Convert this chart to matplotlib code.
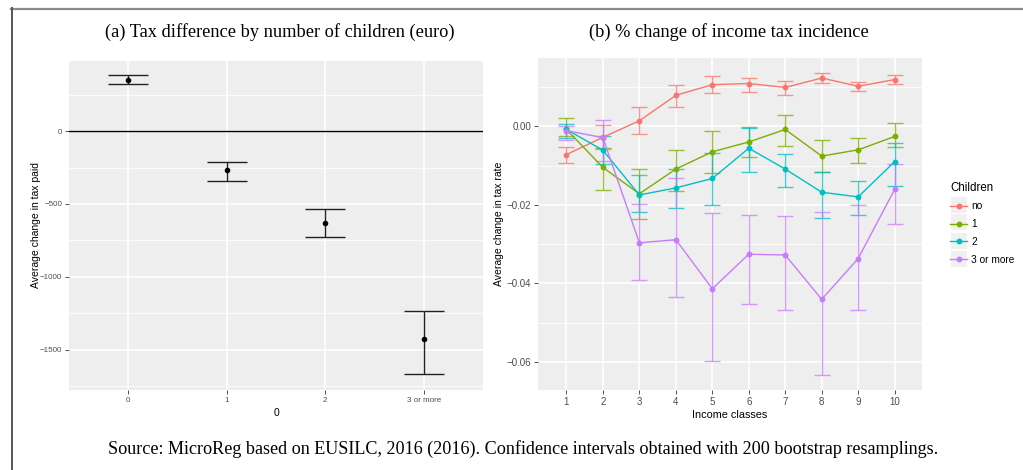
import matplotlib
matplotlib.use("Agg")
import matplotlib.pyplot as plt
from matplotlib.lines import Line2D
from matplotlib.patches import Rectangle
import numpy as np

# ---- data: panel (a) ----
child_cats = ["0", "1", "2", "3 or more"]
tax_mean = [350, -270, -630, -1427]
tax_low = [325, -341, -723, -1668]
tax_high = [385, -209, -532, -1231]

# ---- data: panel (b) ----
income_classes = [1, 2, 3, 4, 5, 6, 7, 8, 9, 10]
series_names = ["no", "1", "2", "3 or more"]
no_mean = [-0.0072, -0.0028, 0.0014, 0.0079, 0.0106, 0.0109, 0.0099, 0.0123, 0.0102, 0.0119]
no_low = [-0.0093, -0.0058, -0.0020, 0.0048, 0.0086, 0.0088, 0.0080, 0.0111, 0.0090, 0.0108]
no_high = [-0.0052, 0.0002, 0.0048, 0.0105, 0.0127, 0.0124, 0.0116, 0.0135, 0.0113, 0.0130]
one_mean = [-0.0008, -0.0105, -0.0172, -0.0109, -0.0065, -0.0040, -0.0008, -0.0076, -0.0060, -0.0026]
one_low = [-0.0025, -0.0163, -0.0237, -0.0166, -0.0118, -0.0079, -0.0050, -0.0117, -0.0093, -0.0054]
one_high = [0.0022, -0.0056, -0.0108, -0.0061, -0.0011, -0.0002, 0.0028, -0.0036, -0.0031, 0.0009]
two_mean = [-0.0008, -0.0061, -0.0175, -0.0157, -0.0133, -0.0056, -0.0109, -0.0168, -0.0180, -0.0090]
two_low = [-0.0031, -0.0097, -0.0219, -0.0207, -0.0200, -0.0117, -0.0154, -0.0233, -0.0225, -0.0152]
two_high = [0.0007, -0.0026, -0.0123, -0.0108, -0.0067, -0.0004, -0.0070, -0.0116, -0.0139, -0.0043]
three_mean = [-0.0011, -0.0029, -0.0297, -0.0289, -0.0414, -0.0326, -0.0328, -0.0441, -0.0337, -0.0161]
three_low = [-0.0035, -0.0088, -0.0391, -0.0434, -0.0598, -0.0453, -0.0469, -0.0633, -0.0468, -0.0250]
three_high = [0.0000, 0.0016, -0.0198, -0.0133, -0.0220, -0.0227, -0.0228, -0.0218, -0.0201, -0.0095]

colors = ["#F8766D", "#7CAE00", "#00BFC4", "#C77CFF"]

W, H = 1023, 470
fig = plt.figure(figsize=(W / 100, H / 100), dpi=100)
fig.patch.set_facecolor("white")

sans = ["Liberation Sans", "DejaVu Sans"]
serif = ["Liberation Serif", "DejaVu Serif"]
panel_bg = "#EEEEEE"


def px_axes(x0, y0, x1, y1):
    return fig.add_axes([x0 / W, 1 - y1 / H, (x1 - x0) / W, (y1 - y0) / H])


def gg_style(ax):
    ax.set_facecolor(panel_bg)
    for s in ax.spines.values():
        s.set_visible(False)
    ax.tick_params(axis="both", length=3, width=0.6, color="#333333",
                   labelcolor="#4D4D4D", pad=2)
    ax.set_axisbelow(True)


# ---------- panel (a) ----------
ax1 = px_axes(69, 61, 483, 390)
gg_style(ax1)
xa = np.arange(len(child_cats))
ax1.set_xlim(-0.6, len(child_cats) - 1 + 0.6)
ax1.set_ylim(-1775, 480)
ax1.set_yticks([0, -500, -1000, -1500])
ax1.set_yticklabels(["0", "\u2212500", "\u22121000", "\u22121500"], family=sans, fontsize=5.8)
ax1.set_yticks([250, -250, -750, -1250, -1750], minor=True)
ax1.tick_params(axis="y", which="minor", length=0)
ax1.set_xticks(xa)
ax1.set_xticklabels(child_cats, family=sans, fontsize=5.8)
ax1.grid(True, which="major", color="white", linewidth=1.1)
ax1.grid(True, which="minor", axis="y", color="white", linewidth=0.55)
ax1.axhline(0, color="black", linewidth=1.0, zorder=2)
yerr = [np.array(tax_mean) - np.array(tax_low), np.array(tax_high) - np.array(tax_mean)]
ax1.errorbar(xa, tax_mean, yerr=yerr, fmt="o", color="black", ecolor="#222222",
             markersize=3, elinewidth=1.0, capsize=14.5, capthick=1.0, zorder=3)
ax1.set_ylabel("Average change in tax paid", family=sans, fontsize=7.5, labelpad=-1)
ax1.set_xlabel("0", family=sans, fontsize=7.5, labelpad=3)

# ---------- panel (b) ----------
ax2 = px_axes(538, 58, 922, 390)
gg_style(ax2)
ax2.set_xlim(0.22, 10.75)
ax2.set_ylim(-0.0672, 0.0174)
ax2.set_xticks(income_classes)
ax2.set_xticklabels([str(v) for v in income_classes], family=sans, fontsize=7)
ax2.set_yticks([0.0, -0.02, -0.04, -0.06])
ax2.set_yticklabels(["0.00", "\u22120.02", "\u22120.04", "\u22120.06"], family=sans, fontsize=7)
ax2.set_yticks([0.01, -0.01, -0.03, -0.05], minor=True)
ax2.tick_params(axis="y", which="minor", length=0)
ax2.grid(True, which="major", color="white", linewidth=1.1)
ax2.grid(True, which="minor", axis="y", color="white", linewidth=0.55)

all_series = [
    (no_mean, no_low, no_high),
    (one_mean, one_low, one_high),
    (two_mean, two_low, two_high),
    (three_mean, three_low, three_high),
]
handles = []
for (m, lo, hi), c, name in zip(all_series, colors, series_names):
    m = np.array(m); lo = np.array(lo); hi = np.array(hi)
    ax2.errorbar(income_classes, m, yerr=[m - lo, hi - m], fmt="none", ecolor=c,
                 elinewidth=1.0, capsize=5.5, capthick=1.0, alpha=0.75, zorder=2)
    ax2.plot(income_classes, m, "-o", color=c, linewidth=1.0, markersize=3.2, zorder=3)
    handles.append(Line2D([0], [0], color=c, marker="o", linewidth=1.0, markersize=3.2))

ax2.set_ylabel("Average change in tax rate", family=sans, fontsize=7.5, labelpad=1.5)
ax2.set_xlabel("Income classes", family=sans, fontsize=7.8, labelpad=2)

# legend key backgrounds (ggplot style)
for i in range(len(series_names)):
    yc = 204 + 18 * i
    fig.add_artist(Rectangle((950 / W, 1 - (yc + 8.5) / H), 17 / W, 17 / H,
                             transform=fig.transFigure, facecolor="#F0F0F0",
                             edgecolor="white", linewidth=0.8, zorder=0))

leg = fig.legend(handles, series_names, title="Children", loc="upper left",
                 bbox_to_anchor=(946 / W, 1 - 177.5 / H), frameon=False,
                 prop={"family": sans, "size": 7.3}, handlelength=1.7,
                 handletextpad=0.4, labelspacing=0.77, borderaxespad=0)
leg.get_title().set_fontfamily(sans)
leg.get_title().set_fontsize(8.3)
leg._legend_box.align = "left"

# ---------- titles and caption ----------
fig.text(280 / W, 1 - 32 / H, "(a) Tax difference by number of children (euro)",
         family=serif, fontsize=13.2, ha="center", va="center")
fig.text(729 / W, 1 - 32 / H, "(b) % change of income tax incidence",
         family=serif, fontsize=13.2, ha="center", va="center")
fig.text(523 / W, 1 - 449 / H,
         "Source: MicroReg based on EUSILC, 2016 (2016). Confidence intervals obtained with 200 bootstrap resamplings.",
         family=serif, fontsize=13.1, ha="center", va="center")

# ---------- frame lines ----------
fig.add_artist(Line2D([11 / W, 1.0], [1 - 8.5 / H, 1 - 8.5 / H], color="#8A8A8A",
                      linewidth=1.6, transform=fig.transFigure))
fig.add_artist(Line2D([11.5 / W, 11.5 / W], [1 - 8 / H, 0.0], color="#555555",
                      linewidth=1.4, transform=fig.transFigure))

fig.savefig("out.png", dpi=100, facecolor="white")
